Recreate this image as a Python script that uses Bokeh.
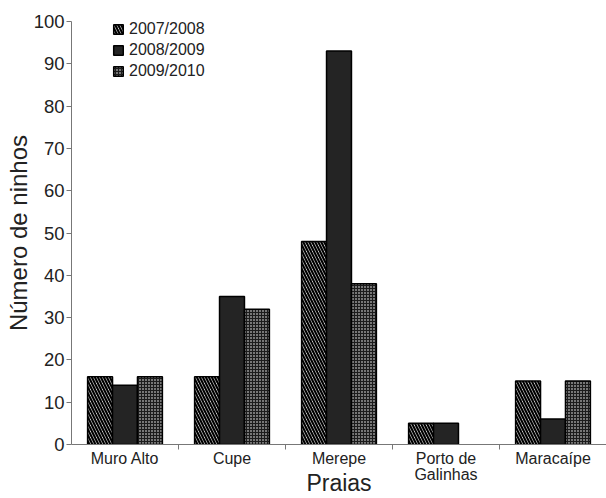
from bokeh.plotting import figure
from bokeh.models import ColumnDataSource, FixedTicker, Range1d, Legend, LegendItem
from bokeh.transform import dodge
from bokeh.embed import file_html
from bokeh.resources import INLINE

praias = ["Muro Alto", "Cupe", "Merepe", "Porto de\nGalinhas", "Maracaípe"]
seasons = ["2007/2008", "2008/2009", "2009/2010"]
s2007 = [16, 16, 48, 5, 15]
s2008 = [14, 35, 93, 5, 6]
s2009 = [16, 32, 38, None, 15]
y_ticks = [0, 10, 20, 30, 40, 50, 60, 70, 80, 90, 100]
x_title = "Praias"
y_title = "Número de ninhos"

xpos = [i + 0.5 for i in range(len(praias))]
src = ColumnDataSource(dict(x=xpos, a=s2007, b=s2008,
                            c=[float("nan") if v is None else v for v in s2009]))

FONT = "Liberation Sans"
TXT = "#222222"
AX = "#777777"

p = figure(width=606, height=498, output_backend="svg", toolbar_location=None,
           x_range=Range1d(0, len(praias)), y_range=Range1d(0, 100),
           min_border_left=71, min_border_right=0, min_border_top=21, min_border_bottom=54)
p.outline_line_color = None
p.grid.grid_line_color = None

w = 0.233
styles = [
    dict(fill_color="white", hatch_pattern="\\", hatch_color="black", hatch_weight=2.2, hatch_scale=6),
    dict(fill_color="#242424"),
    dict(fill_color="#1c1c1c", hatch_pattern="dot", hatch_color="white", hatch_weight=1.5, hatch_scale=3),
]
renderers = []
for col, off, st in zip(["a", "b", "c"], [-w, 0, w], styles):
    r = p.vbar(x=dodge("x", off), top=col, width=w, bottom=0, source=src,
               line_color="black", line_width=1.5, **st)
    renderers.append(r)

legend = Legend(items=[LegendItem(label=s, renderers=[r]) for s, r in zip(seasons, renderers)],
                location=(41, 364), border_line_color=None, background_fill_alpha=0,
                glyph_width=12, glyph_height=12, label_height=15, spacing=3, padding=0,
                label_text_font=FONT, label_text_font_size="16px", label_text_color=TXT,
                label_standoff=5)
p.add_layout(legend)

p.yaxis.ticker = FixedTicker(ticks=y_ticks)
p.yaxis.axis_label = y_title
p.yaxis.axis_label_text_font = FONT
p.yaxis.axis_label_text_font_size = "24px"
p.yaxis.axis_label_text_font_style = "normal"
p.yaxis.axis_label_text_color = TXT
p.yaxis.major_label_text_font = FONT
p.yaxis.major_label_text_font_size = "18.5px"
p.yaxis.major_label_text_color = TXT
p.yaxis.major_label_standoff = 2
p.yaxis.minor_tick_line_color = None
p.yaxis.major_tick_in = 0
p.yaxis.major_tick_out = 5
p.yaxis.axis_line_color = AX
p.yaxis.major_tick_line_color = AX
p.yaxis.axis_label_standoff = -1

p.xaxis.ticker = FixedTicker(ticks=xpos, minor_ticks=[1, 2, 3, 4])
p.xaxis.major_label_overrides = {x: n for x, n in zip(xpos, praias)}
p.xaxis.major_tick_line_color = None
p.xaxis.major_tick_out = 0
p.xaxis.minor_tick_in = 0
p.xaxis.minor_tick_out = 5
p.xaxis.minor_tick_line_color = AX
p.xaxis.axis_line_color = AX
p.xaxis.major_label_standoff = 0
p.xaxis.major_label_text_font = FONT
p.xaxis.major_label_text_font_size = "16px"
p.xaxis.major_label_text_color = TXT
p.xaxis.major_label_text_line_height = 0.95
p.xaxis.axis_label = x_title
p.xaxis.axis_label_text_font = FONT
p.xaxis.axis_label_text_font_size = "23px"
p.xaxis.axis_label_text_font_style = "normal"
p.xaxis.axis_label_text_color = TXT
p.xaxis.axis_label_standoff = -16

open("out.html", "w").write(file_html(p, INLINE))
